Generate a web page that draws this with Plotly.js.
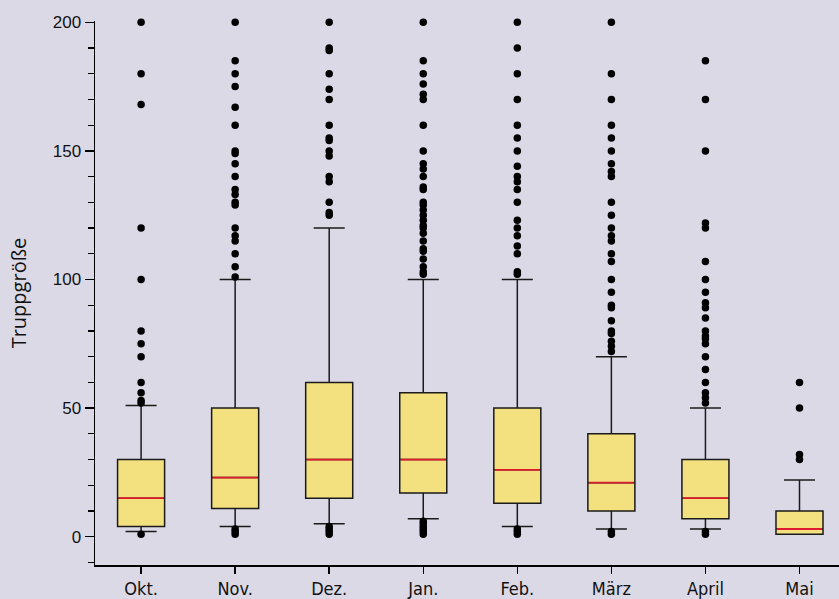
<!DOCTYPE html>
<html>
<head>
<meta charset="utf-8">
<script src="https://cdn.plot.ly/plotly-3.0.1.min.js"></script>
<style>html,body{margin:0;padding:0;background:#dcd9e6;}#chart{width:839px;height:599px;}</style>
</head>
<body>
<div id="chart"></div>
<script>
// Categories (months)
var months = ["Okt.", "Nov.", "Dez.", "Jan.", "Feb.", "März", "April", "Mai"];

// Box statistics per month
var q1     = [4, 11, 15, 17, 13, 10, 7, 1];
var median = [15, 23, 30, 30, 26, 21, 15, 3];
var q3     = [30, 50, 60, 56, 50, 40, 30, 10];
var lowerWhisker = [2, 4, 5, 7, 4, 3, 3, 1];
var upperWhisker = [51, 100, 120, 100, 100, 70, 50, 22];

// Outliers per month
var outOkt = [200, 180, 168, 120, 100, 80, 75, 70, 60, 56, 53, 52, 1];
var outNov = [200, 185, 180, 175, 167, 160, 150, 149, 145, 140, 135, 133, 130, 129, 120, 117, 115, 110, 105, 101, 3, 2, 1];
var outDez = [200, 190, 189, 180, 174, 170, 160, 155, 154, 150, 148, 140, 138, 130, 126, 125, 4, 3, 2, 1];
var outJan = [200, 185, 180, 176, 172, 170, 160, 150, 145, 143, 140, 136, 135, 130, 129, 127, 125, 123, 121, 120, 118, 115, 112, 111, 108, 105, 103, 102, 6, 5, 4, 3, 2, 1];
var outFeb = [200, 190, 180, 170, 160, 155, 150, 144, 140, 138, 135, 130, 123, 120, 117, 113, 110, 103, 102, 3, 2, 1];
var outMaerz = [200, 180, 170, 160, 155, 150, 145, 142, 140, 130, 125, 120, 117, 115, 110, 107, 100, 95, 90, 89, 84, 80, 79, 76, 74, 72, 2, 1];
var outApril = [185, 170, 150, 122, 120, 107, 100, 95, 91, 89, 85, 80, 78, 77, 75, 70, 65, 60, 56, 54, 52, 2, 1];
var outMai = [60, 50, 32, 30];

var yTickVals = [0, 50, 100, 150, 200];
var yTitle = "Truppgröße";

var outliers = [outOkt, outNov, outDez, outJan, outFeb, outMaerz, outApril, outMai];
var ox = [], oy = [];
outliers.forEach(function (arr, i) {
  arr.forEach(function (v) { ox.push(months[i]); oy.push(v); });
});

var boxTrace = {
  type: "box",
  x: months,
  q1: q1, median: median, q3: q3,
  lowerfence: lowerWhisker, upperfence: upperWhisker,
  width: 0.5,
  whiskerwidth: 0.66,
  fillcolor: "#f3e07f",
  line: { color: "#1a1a1a", width: 1.5 },
  boxpoints: false,
  hoverinfo: "skip",
  showlegend: false
};

var medianTrace = {
  type: "box",
  x: months,
  q1: median, median: median, q3: median,
  lowerfence: median, upperfence: median,
  width: 0.48,
  whiskerwidth: 0,
  fillcolor: "rgba(0,0,0,0)",
  line: { color: "#e01a2e", width: 1.8 },
  boxpoints: false,
  hoverinfo: "skip",
  showlegend: false
};

var outTrace = {
  type: "scatter",
  mode: "markers",
  x: ox, y: oy,
  marker: { color: "#000000", size: 7.5 },
  cliponaxis: false,
  showlegend: false,
  hoverinfo: "skip"
};

var layout = {
  width: 839, height: 599,
  margin: { l: 95, r: 0, t: 21, b: 34 },
  paper_bgcolor: "#dcd9e6",
  plot_bgcolor: "#dcd9e6",
  boxmode: "overlay",
  showlegend: false,
  xaxis: {
    type: "category",
    categoryorder: "array",
    categoryarray: months,
    range: [-0.49, 7.42],
    showline: true, linecolor: "#000", linewidth: 1.5,
    ticks: "outside", ticklen: 7, tickwidth: 1.5, tickcolor: "#000",
    showgrid: false, zeroline: false,
    tickfont: { family: "DejaVu Sans Condensed, DejaVu Sans, sans-serif", size: 18, color: "#111" }
  },
  yaxis: {
    range: [-11, 200.5],
    tickmode: "array",
    tickvals: yTickVals,
    showline: true, linecolor: "#000", linewidth: 1.5,
    ticks: "outside", ticklen: 9, tickwidth: 1.5, tickcolor: "#000",
    minor: { tickmode: "linear", tick0: 0, dtick: 10, ticks: "outside", ticklen: 6, tickwidth: 1.2, tickcolor: "#000", showgrid: false },
    showgrid: false, zeroline: false,
    tickfont: { family: "Liberation Sans, Arial, sans-serif", size: 17, color: "#111" },
    title: { text: yTitle, font: { family: "Open Sans, Noto Sans, sans-serif", size: 20, color: "#111" }, standoff: 20 }
  }
};

Plotly.newPlot("chart", [boxTrace, medianTrace, outTrace], layout, { staticPlot: true, displayModeBar: false });
</script>
</body>
</html>
